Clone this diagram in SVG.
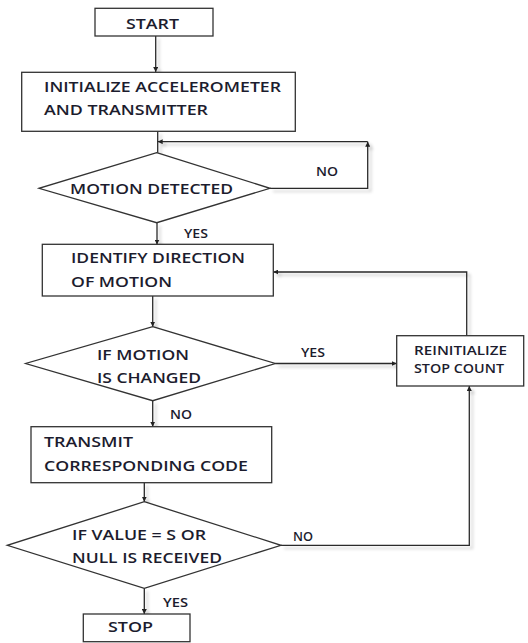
<svg xmlns="http://www.w3.org/2000/svg" width="528" height="643" viewBox="0 0 528 643">
<defs>
<style>
.box{fill:#fff;stroke:#333;stroke-width:1.3}
.ln{fill:none;stroke:#2a2a2a;stroke-width:1.3}
.t{font-family:"Open Sans","Liberation Sans",Arial,sans-serif;font-size:14px;font-weight:600;fill:#1c1c2e}
.s{font-size:12.5px}
</style>
<marker id="ah" viewBox="0 0 6 6" refX="6" refY="3" markerWidth="5" markerHeight="5" markerUnits="userSpaceOnUse" orient="auto">
<path d="M0,0 L6,3 L0,6 z" fill="#222"/>
</marker>
<filter id="sh" x="-10%" y="-10%" width="130%" height="130%">
<feDropShadow dx="3" dy="3" stdDeviation="1.8" flood-color="#000" flood-opacity="0.22"/>
</filter>
</defs>
<rect width="528" height="643" fill="#fff"/>
<g id="connectors" filter="url(#sh)">
<path class="ln" d="M155.7,36 V72" marker-end="url(#ah)"/>
<path class="ln" d="M157.7,131.3 V152.7"/>
<path class="ln" d="M270,188.3 H367.7 V141.7" marker-end="url(#ah)"/>
<path class="ln" d="M367.7,141.7 H157.7" marker-end="url(#ah)"/>
<path class="ln" d="M157,222.7 V244.5" marker-end="url(#ah)"/>
<path class="ln" d="M152.7,296 V326.7" marker-end="url(#ah)"/>
<path class="ln" d="M275.3,363.5 H396.7" marker-end="url(#ah)"/>
<path class="ln" d="M466.7,335.7 V272 H273.3" marker-end="url(#ah)"/>
<path class="ln" d="M152.7,400.7 V426.7" marker-end="url(#ah)"/>
<path class="ln" d="M144.3,482.7 V501.7" marker-end="url(#ah)"/>
<path class="ln" d="M281,545.3 H469.3 V386" marker-end="url(#ah)"/>
<path class="ln" d="M144.3,588.3 V614" marker-end="url(#ah)"/>
</g>
<g id="start">
<rect class="box" x="95" y="8.3" width="118" height="27.7"/>
<text class="t" x="126" y="28.5" textLength="53" lengthAdjust="spacingAndGlyphs">START</text>
</g>
<g id="init">
<rect class="box" x="21.7" y="72.3" width="273.6" height="59"/>
<text class="t" x="44" y="92.3" textLength="237" lengthAdjust="spacingAndGlyphs">INITIALIZE ACCELEROMETER</text>
<text class="t" x="44" y="115" textLength="164" lengthAdjust="spacingAndGlyphs">AND TRANSMITTER</text>
</g>
<g id="motion-detected">
<polygon class="box" points="156.7,152.7 270,188.3 156.7,222.7 39,188.3"/>
<text class="t" x="70" y="194" textLength="163" lengthAdjust="spacingAndGlyphs">MOTION DETECTED</text>
</g>
<g id="identify">
<rect class="box" x="42.3" y="244.3" width="231" height="51.7"/>
<text class="t" x="71" y="263" textLength="174" lengthAdjust="spacingAndGlyphs">IDENTIFY DIRECTION</text>
<text class="t" x="71" y="287" textLength="101" lengthAdjust="spacingAndGlyphs">OF MOTION</text>
</g>
<g id="motion-changed">
<polygon class="box" points="152.7,326.7 275.3,363.5 152.7,400.7 25.7,363.5"/>
<text class="t" x="97" y="360" textLength="92" lengthAdjust="spacingAndGlyphs">IF MOTION</text>
<text class="t" x="97" y="383" textLength="104" lengthAdjust="spacingAndGlyphs">IS CHANGED</text>
</g>
<g id="reinit">
<rect class="box" x="396.7" y="335.7" width="127" height="50.3"/>
<text class="t s" x="414" y="355" textLength="93" lengthAdjust="spacingAndGlyphs">REINITIALIZE</text>
<text class="t s" x="414" y="373" textLength="90" lengthAdjust="spacingAndGlyphs">STOP COUNT</text>
</g>
<g id="transmit">
<rect class="box" x="31" y="426.7" width="240.7" height="56"/>
<text class="t" x="44" y="447" textLength="89" lengthAdjust="spacingAndGlyphs">TRANSMIT</text>
<text class="t" x="44" y="471" textLength="204" lengthAdjust="spacingAndGlyphs">CORRESPONDING CODE</text>
</g>
<g id="value-check">
<polygon class="box" points="144.3,501.7 281,545.3 144.3,588.3 7.3,545.3"/>
<text class="t" x="72" y="540" textLength="134" lengthAdjust="spacingAndGlyphs">IF VALUE = S OR</text>
<text class="t" x="72" y="563" textLength="150" lengthAdjust="spacingAndGlyphs">NULL IS RECEIVED</text>
</g>
<g id="stop">
<rect class="box" x="83.3" y="614" width="106.7" height="27.7"/>
<text class="t" x="108" y="632" textLength="45" lengthAdjust="spacingAndGlyphs">STOP</text>
</g>
<g id="labels">
<text class="t s" x="316" y="176" textLength="22" lengthAdjust="spacingAndGlyphs">NO</text>
<text class="t s" x="184" y="238" textLength="24" lengthAdjust="spacingAndGlyphs">YES</text>
<text class="t s" x="301" y="357" textLength="24" lengthAdjust="spacingAndGlyphs">YES</text>
<text class="t s" x="170" y="419" textLength="22" lengthAdjust="spacingAndGlyphs">NO</text>
<text class="t s" x="293" y="541" textLength="20" lengthAdjust="spacingAndGlyphs">NO</text>
<text class="t s" x="163" y="607" textLength="25" lengthAdjust="spacingAndGlyphs">YES</text>
</g>
</svg>
